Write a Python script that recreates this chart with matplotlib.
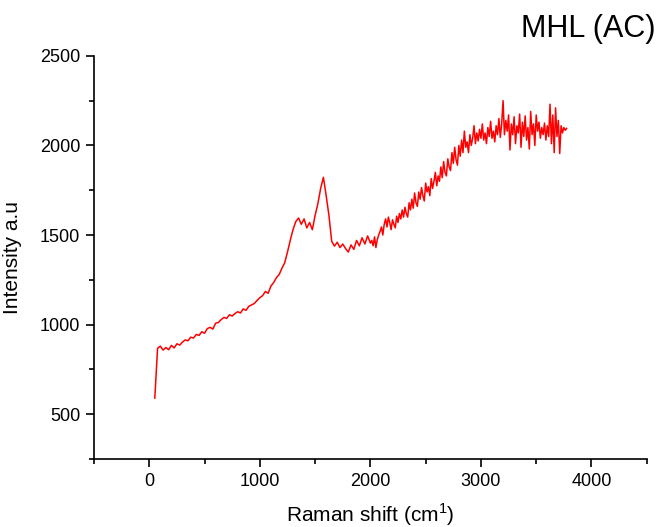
import numpy as np
import matplotlib
matplotlib.use("Agg")
import matplotlib.pyplot as plt
from matplotlib.ticker import MultipleLocator

plt.rcParams['font.family'] = ['Liberation Sans', 'DejaVu Sans']

# Raman spectrum
# low part, step 25 cm-1
shift_low = [50, 75, 100, 125, 150, 175, 200, 225, 250, 275,
             300, 325, 350, 375, 400, 425, 450, 475, 500, 525,
             550, 575, 600, 625, 650, 675, 700, 725, 750, 775,
             800, 825, 850, 875, 900, 925, 950, 975, 1000, 1025,
             1050, 1075, 1100, 1125, 1150, 1175, 1200, 1225, 1250, 1275,
             1300, 1325, 1350, 1375, 1400, 1425, 1450, 1475, 1500, 1525,
             1550, 1575, 1600, 1625, 1650, 1675, 1700, 1725, 1750, 1775,
             1800, 1825, 1850, 1875, 1900, 1925, 1950, 1975]
int_low = [590, 868, 880, 858, 872, 860, 884, 870, 893, 886,
           902, 915, 910, 930, 925, 945, 940, 960, 952, 978,
           985, 975, 1008, 1012, 1028, 1040, 1035, 1055, 1048, 1062,
           1072, 1065, 1088, 1080, 1102, 1110, 1118, 1135, 1150, 1162,
           1185, 1175, 1215, 1235, 1262, 1280, 1315, 1345, 1405, 1470,
           1530, 1575, 1595, 1560, 1590, 1540, 1570, 1530, 1610, 1675,
           1760, 1822, 1720, 1610, 1465, 1438, 1460, 1430, 1450, 1425,
           1405, 1445, 1420, 1470, 1440, 1485, 1450, 1495]

# noisy high part, step 12.5 cm-1
shift_high = [2000, 2012.5, 2025, 2037.5, 2050, 2062.5, 2075, 2087.5,
              2100, 2112.5, 2125, 2137.5, 2150, 2162.5, 2175, 2187.5,
              2200, 2212.5, 2225, 2237.5, 2250, 2262.5, 2275, 2287.5,
              2300, 2312.5, 2325, 2337.5, 2350, 2362.5, 2375, 2387.5,
              2400, 2412.5, 2425, 2437.5, 2450, 2462.5, 2475, 2487.5,
              2500, 2512.5, 2525, 2537.5, 2550, 2562.5, 2575, 2587.5,
              2600, 2612.5, 2625, 2637.5, 2650, 2662.5, 2675, 2687.5,
              2700, 2712.5, 2725, 2737.5, 2750, 2762.5, 2775, 2787.5,
              2800, 2812.5, 2825, 2837.5, 2850, 2862.5, 2875, 2887.5,
              2900, 2912.5, 2925, 2937.5, 2950, 2962.5, 2975, 2987.5,
              3000, 3012.5, 3025, 3037.5, 3050, 3062.5, 3075, 3087.5,
              3100, 3112.5, 3125, 3137.5, 3150, 3162.5, 3175, 3187.5,
              3200, 3212.5, 3225, 3237.5, 3250, 3262.5, 3275, 3287.5,
              3300, 3312.5, 3325, 3337.5, 3350, 3362.5, 3375, 3387.5,
              3400, 3412.5, 3425, 3437.5, 3450, 3462.5, 3475, 3487.5,
              3500, 3512.5, 3525, 3537.5, 3550, 3562.5, 3575, 3587.5,
              3600, 3612.5, 3625, 3637.5, 3650, 3662.5, 3675, 3687.5,
              3700, 3712.5, 3725, 3737.5, 3750, 3762.5, 3775]
int_high = [1455, 1470, 1440, 1490, 1430, 1475, 1500, 1520,
            1545, 1500, 1560, 1590, 1545, 1600, 1570, 1530,
            1585, 1560, 1540, 1605, 1570, 1620, 1590, 1640,
            1600, 1655, 1620, 1600, 1680, 1640, 1700, 1650,
            1735, 1680, 1660, 1740, 1700, 1765, 1720, 1690,
            1790, 1740, 1770, 1720, 1815, 1760, 1800, 1850,
            1775, 1830, 1800, 1880, 1820, 1910, 1850, 1830,
            1925, 1880, 1860, 1960, 1900, 1990, 1920, 1890,
            2000, 1940, 2030, 1960, 2080, 1990, 2020, 1960,
            2060, 2000, 2040, 2110, 2010, 2070, 2025, 2090,
            2040, 2120, 2030, 2070, 2010, 2100, 2050, 2135,
            2040, 2080, 2020, 2110, 2060, 2150, 2045, 2120,
            2250, 2060, 2140, 2080, 2170, 1975, 2120, 2060,
            2160, 2010, 2110, 2070, 2175, 1990, 2130, 2050,
            2165, 2030, 2100, 1980, 2190, 2060, 2120, 2000,
            2170, 2080, 2130, 2040, 2100, 2060, 2125, 2030,
            2110, 2050, 2230, 2010, 2170, 1960, 2210, 2050,
            2140, 1955, 2110, 2070, 2100, 2085, 2095]

shift = shift_low + shift_high
intensity = int_low + int_high

fig = plt.figure(figsize=(6.62, 5.27), dpi=100)
ax = fig.add_axes([0.142, 0.129, 0.835, 0.765])

ax.plot(shift, intensity, color='#ff0000', linewidth=1.1)

ax.set_xlim(-500, 4500)
ax.set_ylim(250, 2500)
ax.xaxis.set_major_locator(MultipleLocator(1000))
ax.xaxis.set_minor_locator(MultipleLocator(500))
ax.yaxis.set_major_locator(MultipleLocator(500))
ax.yaxis.set_minor_locator(MultipleLocator(250))

ax.spines['top'].set_visible(False)
ax.spines['right'].set_visible(False)
ax.spines['left'].set_linewidth(1.2)
ax.spines['bottom'].set_linewidth(1.2)
ax.tick_params(which='major', direction='out', length=6, width=1.2,
               labelsize=13, pad=4)
ax.tick_params(which='minor', direction='out', length=3.5, width=1.2)

ax.set_xlabel('Raman shift (cm$^{\\mathregular{1}}$)', fontsize=15)
ax.set_ylabel('Intensity a.u', fontsize=15)
ax.xaxis.set_label_coords(0.5, -0.104)
ax.yaxis.set_label_coords(-0.13, 0.5)

fig.text(0.99, 0.93, 'MHL (AC)', ha='right', va='baseline', fontsize=22)

fig.savefig('out.png', dpi=100)
